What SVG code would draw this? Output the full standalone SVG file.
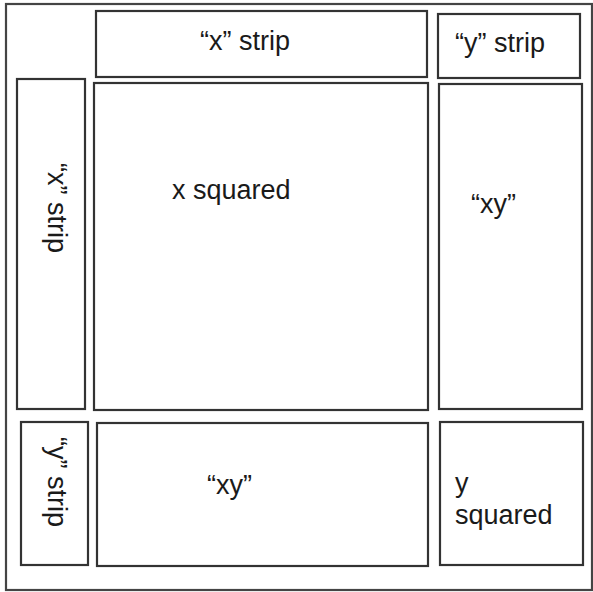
<svg xmlns="http://www.w3.org/2000/svg" width="593" height="592" viewBox="0 0 593 592">
<style>
.box{fill:#fff;stroke:#333;stroke-width:2.2}
.frame{fill:#fff;stroke:#444;stroke-width:2.2}
text{font-family:"Liberation Sans",Arial,sans-serif;font-size:27px;fill:#1a1a1a}
</style>
<rect x="0" y="0" width="593" height="592" fill="#fff"/>
<g id="frame"><rect class="frame" x="6" y="4" width="586" height="586"/></g>
<g id="x-strip-top"><rect class="box" x="96" y="11" width="331" height="66"/><text x="245" y="50" text-anchor="middle">“x” strip</text></g>
<g id="y-strip-top"><rect class="box" x="438" y="14" width="142" height="64"/><text x="455" y="52">“y” strip</text></g>
<g id="x-strip-left"><rect class="box" x="17" y="79" width="68" height="330"/><text transform="translate(48,208) rotate(90)" text-anchor="middle">“x” strip</text></g>
<g id="x-squared"><rect class="box" x="94" y="83" width="334" height="327"/><text x="172" y="199">x squared</text></g>
<g id="xy-right"><rect class="box" x="439" y="84" width="143" height="325"/><text x="471" y="213">“xy”</text></g>
<g id="y-strip-left"><rect class="box" x="21" y="422" width="67" height="143"/><text transform="translate(48,482) rotate(90)" text-anchor="middle">“y” strip</text></g>
<g id="xy-bottom"><rect class="box" x="97" y="423" width="331" height="143"/><text x="207" y="494">“xy”</text></g>
<g id="y-squared"><rect class="box" x="440" y="422" width="143" height="143"/><text x="455" y="492">y</text><text x="455" y="524">squared</text></g>
<g id="connectors"></g>
</svg>
